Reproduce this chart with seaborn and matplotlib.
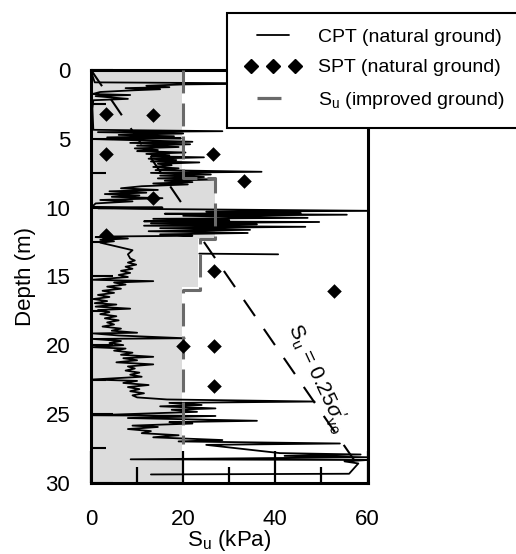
import numpy as np
import pandas as pd
import matplotlib
matplotlib.use("Agg")
import matplotlib.pyplot as plt
from matplotlib.lines import Line2D
from matplotlib.legend_handler import HandlerLine2D
from matplotlib.patches import Rectangle
import seaborn as sns

# CPT trace (natural ground): Su (kPa) vs depth (m)
cpt_su = [0.0, 0.4, 0.8, 40.0, 20.0, 12.0, 17.0, 7.5, 15.0, 9.0, 2.0, 0.3, 8.5, 1.0, 8.0, 0.5,
          0.3, 0.4, 0.5, 28.5, 1.5, 20.0, 6.0, 18.0, 3.5, 19.5, 0.3, 9.0, 22.0, 8.5, 21.5, 10.0,
          19.0, 9.5, 14.5, 10.0, 20.5, 12.0, 17.0, 13.0, 24.5, 12.5, 18.5, 13.0, 23.5, 14.5, 17.5,
          13.5, 19.0, 14.0, 37.0, 13.0, 26.0, 15.0, 24.5, 14.5, 27.0, 16.0, 22.0, 13.5, 21.0, 11.0,
          6.5, 14.5, 4.0, 12.0, 3.0, 10.5, 4.5, 15.5, 2.0, 9.0, 1.0, 0.2, 15.5, 1.5, 11.0, 62.0,
          25.0, 45.5, 16.0, 55.5, 20.0, 47.0, 13.5, 30.0, 11.5, 49.5, 13.0, 36.0, 11.5, 46.5, 15.0,
          34.5, 12.5, 34.0, 15.0, 22.0, 5.0, 1.0, 8.0, 2.0, 5.0, 2.0, 9.0, 8.0, 8.5, 9.5, 8.0, 9.8,
          7.5, 9.0, 6.5, 8.5, 6.0, 8.0, 0.3, 13.5, 5.0, 7.5, 3.5, 6.5, 2.5, 5.0, 1.5, 4.0, 0.5, 3.5,
          0.8, 5.5, 1.0, 8.5, 1.5, 4.0, 2.0, 5.5, 3.0, 6.0, 3.5, 5.0, 2.5, 6.5, 4.5, 10.0, 0.5, 6.0,
          20.3, 0.3, 6.5, 4.0, 7.0, 0.3, 7.5, 5.0, 9.0, 6.5, 13.5, 7.0, 10.0, 5.5, 13.5, 8.0, 9.5,
          7.5, 10.5, 8.5, 11.0, 0.3, 10.0, 7.0, 12.5, 8.0, 10.5, 8.5, 11.5, 9.0, 10.0, 16.5, 48.5,
          17.0, 24.0, 15.0, 27.0, 17.5, 23.0, 14.0, 0.3, 27.0, 8.0, 36.0, 17.0, 22.0, 9.0, 14.5,
          8.0, 13.0, 11.0, 19.0, 13.5, 28.5, 19.0, 54.0, 25.0, 41.0, 58.5, 42.0, 60.0, 8.6, 60.0,
          55.0, 58.0, 56.0, 13.0]
cpt_depth = [0.0, 0.5, 0.9, 0.98, 1.05, 1.15, 1.25, 1.32, 1.40, 1.48, 1.60, 1.75, 1.82, 1.90,
             2.10, 2.20, 2.8, 3.6, 4.35, 4.45, 4.52, 4.62, 4.72, 4.82, 4.90, 4.97, 5.02, 5.10,
             5.22, 5.30, 5.40, 5.50, 5.60, 5.70, 5.82, 5.90, 6.00, 6.10, 6.20, 6.28, 6.35, 6.45,
             6.55, 6.65, 6.72, 6.82, 6.92, 7.05, 7.15, 7.28, 7.40, 7.48, 7.60, 7.68, 7.78, 7.88,
             7.96, 8.05, 8.15, 8.25, 8.32, 8.45, 8.60, 8.72, 8.82, 8.92, 9.02, 9.12, 9.22, 9.32,
             9.45, 9.55, 9.70, 9.95, 10.00, 10.05, 10.10, 10.24, 10.30, 10.40, 10.45, 10.52,
             10.60, 10.75, 10.82, 10.92, 11.00, 11.05, 11.15, 11.22, 11.32, 11.40, 11.50, 11.62,
             11.72, 11.85, 11.95, 12.05, 12.10, 12.15, 12.25, 12.35, 12.45, 12.55, 13.10, 13.40,
             13.70, 13.85, 14.00, 14.15, 14.30, 14.45, 14.60, 14.75, 14.90, 15.05, 15.25, 15.35,
             15.45, 15.60, 15.75, 15.90, 16.05, 16.20, 16.35, 16.50, 16.65, 16.80, 16.95, 17.05,
             17.20, 17.35, 17.45, 17.60, 17.75, 17.90, 18.05, 18.20, 18.35, 18.50, 18.65, 18.80,
             18.95, 19.10, 19.15, 19.30, 19.50, 19.55, 19.70, 19.85, 20.00, 20.15, 20.25, 20.40,
             20.55, 20.70, 20.85, 20.95, 21.10, 21.25, 21.40, 21.55, 21.70, 21.85, 22.00, 22.15,
             22.30, 22.50, 22.60, 22.75, 22.90, 23.05, 23.20, 23.35, 23.50, 23.65, 23.80, 23.95,
             24.10, 24.20, 24.35, 24.45, 24.60, 24.70, 24.85, 24.95, 25.10, 25.15, 25.30, 25.50,
             25.60, 25.70, 25.85, 25.95, 26.10, 26.25, 26.40, 26.55, 26.70, 26.90, 27.00, 27.15,
             27.25, 27.85, 27.95, 28.05, 28.15, 28.30, 28.35, 28.45, 28.60, 29.35, 29.40]
# short detached CPT stroke near 13.4 m
cpt_piece_su = [23.5, 40.6]
cpt_piece_depth = [13.35, 13.40]

# SPT (natural ground)
spt_su = [3.3, 13.5, 3.3, 26.5, 33.2, 13.5, 3.3, 26.7, 52.7, 19.9, 26.7, 26.7]
spt_depth = [3.2, 3.3, 6.1, 6.1, 8.1, 9.3, 12.0, 14.6, 16.1, 20.1, 20.1, 23.0]

# Su profile of improved ground (step line) and shaded zone
imp_su = [20, 20, 27, 27, 23.7, 23.7, 20, 20]
imp_depth = [0, 7.85, 7.85, 12.25, 12.25, 16.0, 16.0, 27.2]
fill_su = [19.7, 19.7, 26.9, 26.9, 23.3, 23.3, 19.7, 19.7]
fill_depth = [0, 7.8, 7.8, 12.3, 12.3, 15.8, 15.8, 30]

# Su = 0.25 sigma'vo reference lines
ref_top_su = [0, 19.5]
ref_top_depth = [0, 9.6]
ref_low_su = [24.5, 57.8]
ref_low_depth = [12.5, 28.7]

sns.set_style("ticks")
plt.rcParams['font.family'] = ['Liberation Sans', 'DejaVu Sans']
plt.rcParams['mathtext.fontset'] = 'custom'
plt.rcParams['mathtext.rm'] = 'Liberation Sans'
plt.rcParams['mathtext.it'] = 'Liberation Sans:italic'
plt.rcParams['mathtext.sf'] = 'Liberation Sans'
plt.rcParams['text.color'] = 'black'
plt.rcParams['axes.labelcolor'] = 'black'
plt.rcParams['xtick.color'] = 'black'
plt.rcParams['ytick.color'] = 'black'

fig = plt.figure(figsize=(5.16, 5.54), dpi=100)
ax = fig.add_axes([0.1764, 0.1287, 0.5359, 0.745])
ax.set_axisbelow(False)

ax.fill_betweenx(fill_depth, 0, fill_su, color='#dcdcdc', lw=0, zorder=0)

cpt = pd.DataFrame({
    'su': cpt_su + cpt_piece_su,
    'depth': cpt_depth + cpt_piece_depth,
    'run': [0] * len(cpt_su) + [1] * len(cpt_piece_su),
})
sns.lineplot(data=cpt, x='su', y='depth', units='run', estimator=None, sort=False,
             color='black', lw=1.3, ax=ax, zorder=3)

imp = pd.DataFrame({'su': imp_su, 'depth': imp_depth})
sns.lineplot(data=imp, x='su', y='depth', estimator=None, sort=False, color='#6a6a6a',
             lw=2.2, linestyle=(0, (7.5, 3.3)), ax=ax, zorder=4)

for xs, ys in [(ref_top_su, ref_top_depth), (ref_low_su, ref_low_depth)]:
    sns.lineplot(x=xs, y=ys, estimator=None, sort=False, color='black', lw=1.5,
                 linestyle=(0, (9.4, 7.5)), ax=ax, zorder=4)

sns.scatterplot(x=spt_su, y=spt_depth, marker='D', s=55, color='black',
                edgecolor='black', linewidth=0, ax=ax, zorder=5)

ax.text(49, 22.4, r'S$_\mathrm{u}$ = 0.25$\sigma^{\prime}_{\mathrm{vo}}$', rotation=-65,
        ha='center', va='center', fontsize=15, zorder=6)

ax.set_xlim(0, 60)
ax.set_ylim(30, 0)
ax.set_xticks([0, 20, 40, 60])
ax.set_xticks([10, 30, 50], minor=True)
ax.set_yticks([0, 5, 10, 15, 20, 25, 30])
ax.set_yticks(np.arange(2.5, 30, 5), minor=True)
ax.tick_params(axis='x', which='major', direction='in', length=23, width=1.6,
               labelsize=16, pad=19, color='black')
ax.tick_params(axis='x', which='minor', direction='in', length=11.5, width=1.6,
               color='black')
ax.tick_params(axis='y', which='major', direction='in', length=16, width=1.5,
               labelsize=16, pad=15, color='black')
ax.tick_params(axis='y', which='minor', direction='in', length=11, width=1.5,
               color='black')
for sp in ax.spines.values():
    sp.set_linewidth(2.2)
    sp.set_color('black')

ax.set_xlabel(r'S$_\mathrm{u}$ (kPa)', fontsize=16, labelpad=-1.5)
ax.set_ylabel('Depth (m)', fontsize=16, labelpad=6.5)

# legend box (partly outside the axes, cut by the figure edge)
fig.add_artist(Rectangle((227 / 516, 1 - 128.3 / 554), 300 / 516, 115 / 554,
                         transform=fig.transFigure, facecolor='white',
                         edgecolor='black', lw=1.5, zorder=4))
spt_handle = Line2D([], [], color='black', marker='D', ls='', markersize=7.5)
handles = [
    Line2D([], [], color='black', lw=1.3),
    spt_handle,
    Line2D([], [], color='#6a6a6a', lw=2.3, linestyle=(0, (7.5, 3.2))),
]
labels = ['CPT (natural ground)', 'SPT (natural ground)', r'S$_\mathrm{u}$ (improved ground)']
fig.legend(handles, labels, loc='upper left', bbox_to_anchor=(250.7 / 516, 1 - 28 / 554),
           frameon=False, fontsize=14, numpoints=3, handlelength=2.27,
           handletextpad=1.2, borderpad=0, labelspacing=0.68, borderaxespad=0,
           handler_map={spt_handle: HandlerLine2D(numpoints=3, marker_pad=0)})

fig.savefig('out.png', dpi=100)
